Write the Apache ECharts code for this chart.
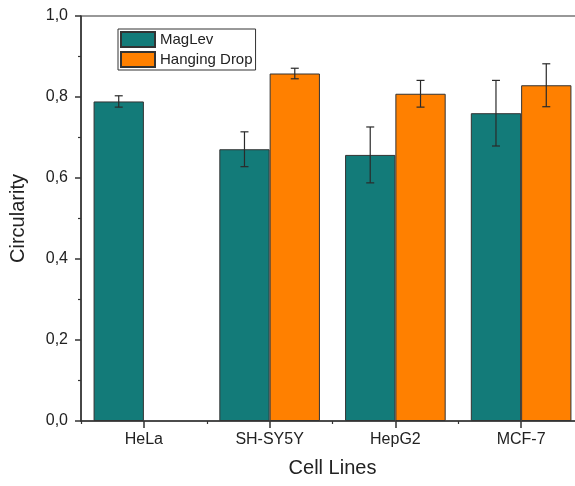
<!DOCTYPE html>
<html>
<head>
<meta charset="utf-8">
<script src="https://cdn.jsdelivr.net/npm/echarts@6/dist/echarts.min.js"></script>
<style>
html,body{margin:0;padding:0;background:#fff;overflow:hidden;width:575px;height:486px;}
#chart{width:600px;height:486px;}
</style>
</head>
<body>
<div id="chart"></div>
<script>
const categories = ['HeLa', 'SH-SY5Y', 'HepG2', 'MCF-7'];
const seriesNames = ['MagLev', 'Hanging Drop'];
const magLev = [0.789, 0.671, 0.657, 0.760];
const magLevErr = [0.014, 0.043, 0.069, 0.081];
const hangingDrop = [null, 0.858, 0.808, 0.829];
const hangingDropErr = [null, 0.013, 0.033, 0.053];
const yTicks = [0, 0.2, 0.4, 0.6, 0.8, 1.0];

const FONT = '"Liberation Sans", Arial, sans-serif';
const TEAL = '#137B79';
const ORANGE = '#FF8000';
const AXIS = '#333333';

function errData(vals, errs) {
  const out = [];
  vals.forEach((v, i) => {
    if (v != null && errs[i] != null) out.push([i, v - errs[i], v + errs[i]]);
  });
  return out;
}

function errSeries(vals, errs, side) {
  return {
    type: 'custom',
    xAxisIndex: 0,
    yAxisIndex: 0,
    z: 10,
    silent: true,
    data: errData(vals, errs),
    renderItem: function (params, api) {
      const band = api.size([1, 0])[0];
      const off = side * band * 0.2;
      const lo = api.coord([api.value(0), api.value(1)]);
      const hi = api.coord([api.value(0), api.value(2)]);
      const x = lo[0] + off;
      const cap = 4;
      const style = { stroke: '#2a2a2a', lineWidth: 1.2 };
      return {
        type: 'group',
        children: [
          { type: 'line', shape: { x1: x, y1: lo[1], x2: x, y2: hi[1] }, style: style },
          { type: 'line', shape: { x1: x - cap, y1: hi[1], x2: x + cap, y2: hi[1] }, style: style },
          { type: 'line', shape: { x1: x - cap, y1: lo[1], x2: x + cap, y2: lo[1] }, style: style }
        ]
      };
    }
  };
}

const chart = echarts.init(document.getElementById('chart'), null, { renderer: 'canvas', width: 600, height: 486 });
chart.setOption({
  animation: false,
  backgroundColor: '#ffffff',
  textStyle: { fontFamily: FONT },
  grid: {
    left: 81, right: 16, top: 16, bottom: 65,
    show: true, borderColor: AXIS, borderWidth: 1.2, backgroundColor: 'transparent'
  },
  legend: {
    orient: 'vertical',
    left: 118, top: 29,
    padding: [2, 3, 2, 2],
    itemGap: 3,
    itemWidth: 34, itemHeight: 15,
    borderColor: AXIS, borderWidth: 1,
    icon: 'rect',
    data: seriesNames,
    textStyle: { fontFamily: FONT, fontSize: 15, color: '#222', padding: [0, 0, 0, 0] }
  },
  xAxis: [
    {
      type: 'category',
      data: categories,
      position: 'bottom',
      axisLine: { show: true, lineStyle: { color: AXIS, width: 1.5 } },
      axisTick: { show: true, alignWithLabel: true, length: 7, lineStyle: { color: AXIS, width: 1.5 } },
      axisLabel: { fontFamily: FONT, fontSize: 16, color: '#222', margin: 11 },
      name: 'Cell Lines',
      nameLocation: 'middle',
      nameGap: 37,
      nameTextStyle: { fontFamily: FONT, fontSize: 20, color: '#222' }
    },
    {
      type: 'category',
      data: categories,
      position: 'bottom',
      axisLine: { show: false },
      axisTick: { show: true, length: 3, lineStyle: { color: AXIS, width: 1.2 } },
      axisLabel: { show: false },
      splitLine: { show: false }
    }
  ],
  yAxis: {
    type: 'value',
    min: 0, max: 1, interval: 0.2,
    axisLine: { show: true, lineStyle: { color: AXIS, width: 1.5 } },
    axisTick: { show: true, length: 6, lineStyle: { color: AXIS, width: 1.5 } },
    minorTick: { show: true, splitNumber: 2, length: 3, lineStyle: { color: AXIS, width: 1.2 } },
    splitLine: { show: false },
    axisLabel: {
      fontFamily: FONT, fontSize: 16, color: '#222', margin: 13,
      formatter: function (v) {
        const t = yTicks.find(k => Math.abs(k - v) < 1e-9);
        return (t != null ? t : v).toFixed(1).replace('.', ',');
      }
    },
    name: 'Circularity',
    nameLocation: 'middle',
    nameGap: 53,
    nameTextStyle: { fontFamily: FONT, fontSize: 20, color: '#222' }
  },
  series: [
    {
      name: seriesNames[0],
      type: 'bar',
      data: magLev,
      barWidth: '40%',
      barGap: '0%',
      itemStyle: { color: TEAL, borderColor: AXIS, borderWidth: 1 }
    },
    {
      name: seriesNames[1],
      type: 'bar',
      data: hangingDrop,
      barWidth: '40%',
      barGap: '0%',
      itemStyle: { color: ORANGE, borderColor: AXIS, borderWidth: 1 }
    },
    errSeries(magLev, magLevErr, -1),
    errSeries(hangingDrop, hangingDropErr, 1)
  ]
});
</script>
</body>
</html>
